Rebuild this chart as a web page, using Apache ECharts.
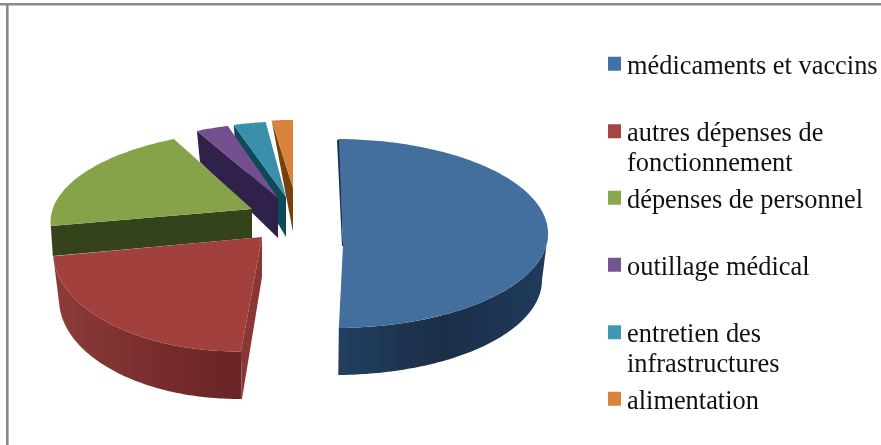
<!DOCTYPE html>
<html><head><meta charset="utf-8">
<style>html,body{margin:0;padding:0;background:#fff}#c{width:881px;height:445px}</style>
<script src="https://cdn.jsdelivr.net/npm/echarts@6/dist/echarts.min.js"></script>
</head><body><div id="c"></div>
<script>
const categories = ['médicaments et vaccins','autres dépenses de\nfonctionnement','dépenses de personnel','outillage médical','entretien des\ninfrastructures','alimentation'];
const shares = [49.5, 24.5, 18.6, 2.8, 2.6, 2.0];
const swatchColors = ['#4371a6','#a84543','#8aa84d','#725591','#4198b3','#dc833b'];
const topColors = ['#436f9f','#a2403e','#87a34a','#744f8f','#3a90aa','#d8823a'];
const firstAngle = 0.9;
const legendTops = [47, 85, 181, 248, 286, 382];

// Slice projection: each exploded slice has its own ellipse because of the perspective of the original.
const views = [
 {top:[335.5,233.5,212.5,94.5], low:[335,280,207,95], apex:[343,246], arc:[90,180], wall:['#223f62','#1b2e46','#1f3b5e'],
  cut:{pts:[[337,140],[342,246],[343,246],[340,139]],fill:'#17304f'}},
 {top:[238,251.5,185,100], low:[239,299,180,100], apex:[262,237], arc:[0,360], wall:['#8c3b39','#7a2e2d','#692425'],
  cut:{side:'start',rim:[1,48],apex:[0,40],fill:'#8a3634'}},
 {top:[268.6,221.7,218,91.8], apex:[252,209], cut:{side:'start',rim:[2,30],apex:[0,29],fill:'#35431d'}},
 {top:[278.6,203,188,80], apex:[278,198], cut:{side:'start',rim:[3,31],apex:[0,40],fill:'#2f2149'}},
 {top:[287.5,218.4,199,97], apex:[286,197], cut:{side:'start',rim:[2,28],apex:[0,40],fill:'#0f4a5a'}},
 {top:[290.3,215,170,95], apex:[293,188], cut:{side:'start',rim:[0,0],apex:[0,44],fill:'#77400f'}}
];

const total = shares.reduce((a,b)=>a+b,0);
const rad = d => d*Math.PI/180;
const onRim = (e,d) => [e[0]+e[2]*Math.sin(rad(d)), e[1]-e[3]*Math.cos(rad(d))];
function arcPts(e,a,b){const o=[];const n=Math.max(2,Math.ceil(Math.abs(b-a)));for(let i=0;i<=n;i++)o.push(onRim(e,a+(b-a)*i/n));return o;}
const add=(p,d)=>[p[0]+d[0],p[1]+d[1]];

function sliceRenderer(i){
  return function(params,api){
    const v = api.value(0);
    let before = 0; for(let k=0;k<i;k++) before += shares[k];
    const a0 = firstAngle + before/total*360, a1 = a0 + v/total*360;
    const L = views[i], kids = [];
    if(L.low){
      const s = Math.max(a0,L.arc[0]), e = Math.min(a1,L.arc[1]);
      const pts = arcPts(L.top,s,e).concat(arcPts(L.low,e,s));
      kids.push({type:'polygon',shape:{points:pts},style:{fill:new echarts.graphic.LinearGradient(0,0,1,0,
        L.wall.map((c,j)=>({offset:j/(L.wall.length-1),color:c})))}});
    }
    const c = L.cut;
    if(c.pts){ kids.push({type:'polygon',shape:{points:c.pts},style:{fill:c.fill}}); }
    else {
      const r = onRim(L.top,a0);
      kids.push({type:'polygon',shape:{points:[r,L.apex,add(L.apex,c.apex),add(r,c.rim)]},style:{fill:c.fill}});
    }
    kids.push({type:'polygon',shape:{points:[L.apex].concat(arcPts(L.top,a0,a1))},style:{fill:topColors[i]}});
    return {type:'group',children:kids};
  };
}

const chart = echarts.init(document.getElementById('c'),null,{renderer:'canvas'});
chart.setOption({
  animation:false,
  backgroundColor:'#fff',
  graphic:[
    {type:'rect',silent:true,shape:{x:0,y:3,width:881,height:2.6},style:{fill:'#8a8a8a'}},
    {type:'rect',silent:true,shape:{x:6,y:3,width:2.6,height:442},style:{fill:'#8a8a8a'}}
  ],
  legend: categories.map((name,i)=>({
    data:[name], left:603, top:legendTops[i], orient:'vertical', selectedMode:false,
    itemWidth:13, itemHeight:20, icon:'path://M0,0H13V14H0Z M0,20L0,20',
    formatter:n=> n.includes('\n') ? ' \n'+n : n,
    textStyle:{fontFamily:'Liberation Serif',fontSize:26.4,lineHeight:29.5,color:'#111',padding:[0,0,0,1]}
  })),
  series: categories.map((name,i)=>({
    type:'custom', name, coordinateSystem:'none', silent:true, z:i===0?7:7-i,
    itemStyle:{color:swatchColors[i]},
    data:[[shares[i]]],
    renderItem:sliceRenderer(i)
  }))
});
</script></body></html>
